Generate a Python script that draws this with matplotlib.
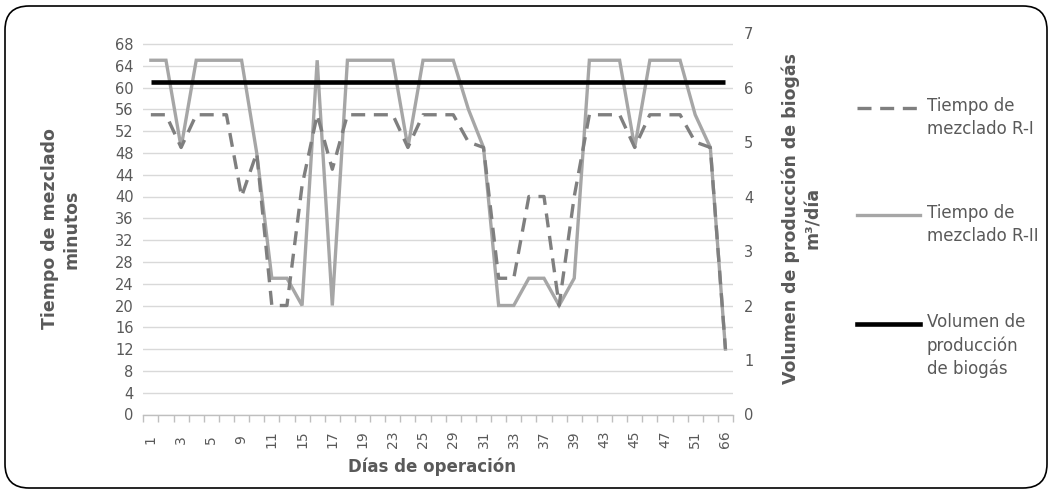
import matplotlib
matplotlib.use("Agg")
import matplotlib.pyplot as plt
from matplotlib.lines import Line2D
from matplotlib.patches import FancyBboxPatch
from matplotlib.transforms import IdentityTransform

# ---------------- data ----------------
dias = ["1", "2", "3", "4", "5", "8", "9", "10", "11", "13", "15", "16", "17",
        "18", "19", "22", "23", "24", "25", "26", "29", "30", "31", "32", "33",
        "36", "37", "38", "39", "40", "43", "44", "45", "46", "47", "50", "51",
        "52", "66"]

tiempo_r1 = [55, 55, 49, 55, 55, 55, 40, 48, 20, 20, 42, 55, 45, 55, 55, 55,
             55, 49, 55, 55, 55, 50, 49, 25, 25, 40, 40, 20, 40, 55, 55, 55,
             49, 55, 55, 55, 50, 49, 12]

tiempo_r2 = [65, 65, 49, 65, 65, 65, 65, 48, 25, 25, 20, 65, 20, 65, 65, 65,
             65, 49, 65, 65, 65, 56, 49, 20, 20, 25, 25, 20, 25, 65, 65, 65,
             49, 65, 65, 65, 55, 49, 12]

biogas = [6.1, 6.1, 6.1, 6.1, 6.1, 6.1, 6.1, 6.1, 6.1, 6.1, 6.1, 6.1, 6.1,
          6.1, 6.1, 6.1, 6.1, 6.1, 6.1, 6.1, 6.1, 6.1, 6.1, 6.1, 6.1, 6.1,
          6.1, 6.1, 6.1, 6.1, 6.1, 6.1, 6.1, 6.1, 6.1, 6.1, 6.1, 6.1, 6.1]

left_ticks = list(range(0, 69, 4))
right_ticks = [0, 1, 2, 3, 4, 5, 6, 7]

# ---------------- styling ----------------
TXT = "#595959"
GRID = "#d9d9d9"
C_R1 = "#7f7f7f"
C_R2 = "#a6a6a6"

W, H = 1054, 491
fig = plt.figure(figsize=(W / 100, H / 100), dpi=100)

x0, x1 = 143.3, 733.0
ytop, ybot = 33.0, 414.5
ax = fig.add_axes([x0 / W, (H - ybot) / H, (x1 - x0) / W, (ybot - ytop) / H])

x = list(range(len(dias)))
ax.plot(x, tiempo_r2, color=C_R2, lw=2.4, zorder=2, solid_joinstyle="miter")
ax.plot(x, tiempo_r1, color=C_R1, lw=2.4, dashes=(4.2, 2.6), zorder=3,
        dash_capstyle="butt")

ax.set_xlim(-0.5, len(dias) - 0.5)
ax.set_ylim(0, 70)
ax.set_yticks(left_ticks)
ax.yaxis.grid(True, color=GRID, lw=1.0)
ax.set_axisbelow(True)

for s in ["left", "right", "top"]:
    ax.spines[s].set_visible(False)
ax.spines["bottom"].set_color("#bfbfbf")
ax.spines["bottom"].set_linewidth(1.0)

ax.set_xticks(x[::2])
ax.set_xticklabels(dias[::2], rotation=90, va="center", ha="center")
ax.set_xticks([i - 0.5 for i in range(len(dias) + 1)], minor=True)
ax.tick_params(axis="x", which="major", length=0, pad=18, labelsize=10,
               labelcolor=TXT)
ax.tick_params(axis="x", which="minor", length=5, color="#bfbfbf", width=1)
ax.tick_params(axis="y", length=0, pad=7, labelsize=10.5, labelcolor=TXT)

ax2 = ax.twinx()
ax2.plot(x, biogas, color="black", lw=3.3, solid_capstyle="butt", zorder=4)
ax2.set_ylim(0, 7)
ax2.set_yticks(right_ticks)
ax2.tick_params(axis="y", length=0, pad=8, labelsize=10.5, labelcolor=TXT)
for s in ["left", "right", "top", "bottom"]:
    ax2.spines[s].set_visible(False)

# ---------------- axis titles ----------------
fig.text(61 / W, (H - 229) / H, "Tiempo de mezclado\nminutos", rotation=90,
         ha="center", va="center", fontsize=12.5, fontweight="bold",
         color=TXT, linespacing=1.25)
fig.text(802 / W, (H - 218) / H, "Volumen de producción de biogás\nm³/día",
         rotation=90, ha="center", va="center", fontsize=12.5,
         fontweight="bold", color=TXT, linespacing=1.25)
fig.text(432 / W, (H - 467) / H, "Días de operación", ha="center",
         va="center", fontsize=12, fontweight="bold", color=TXT)

# ---------------- legend ----------------
entries = [
    ("Tiempo de\nmezclado R-I", dict(color=C_R1, lw=2.4, dashes=(4.2, 2.6)), 108),
    ("Tiempo de\nmezclado R-II", dict(color=C_R2, lw=2.4), 215),
    ("Volumen de\nproducción\nde biogás", dict(color="black", lw=3.3), 324),
]
for label, style, yy in entries:
    fy = (H - yy) / H
    fig.add_artist(Line2D([857 / W, 920 / W], [fy, fy],
                          transform=fig.transFigure, **style))
    fig.text(927 / W, fy + 11 / H, label, ha="left", va="top", fontsize=12,
             color=TXT, linespacing=1.35, transform=fig.transFigure)

# ---------------- rounded frame ----------------
frame = FancyBboxPatch((5, 3), 1042, 482,
                       boxstyle="round,pad=0,rounding_size=24",
                       transform=IdentityTransform(), fill=False,
                       edgecolor="black", lw=1.2)
fig.patches.append(frame)

fig.savefig("out.png", dpi=100, facecolor="white")
